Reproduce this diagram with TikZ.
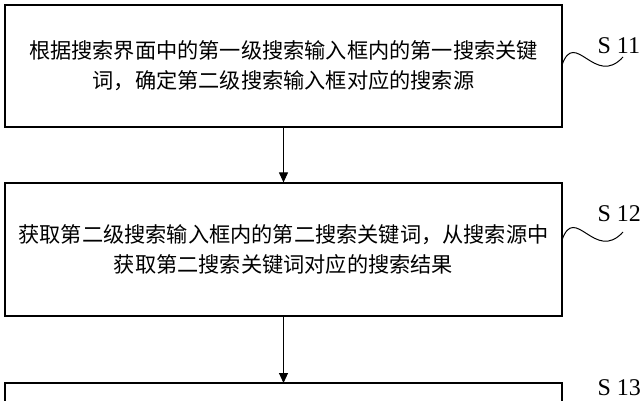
\documentclass[tikz,border=0pt]{standalone}
\usepackage{fontspec}
\setmainfont{Liberation Serif}
\newfontfamily\cjk{Noto Sans CJK SC}
\usetikzlibrary{arrows.meta}
\usetikzlibrary{positioning}
\begin{document}
\begin{tikzpicture}[x=1pt,y=-1pt,
    stepbox/.style={draw,line width=1.2pt,inner sep=0pt},
    steptext/.style={align=center,font=\cjk\fontsize{21.2}{30}\selectfont},
    steplabel/.style={font=\fontsize{24}{26}\selectfont,anchor=west},
    flow/.style={-{Triangle[length=10pt,width=9pt]},line width=1pt}]
    \useasboundingbox (0,0) rectangle (644,400);

    % boxes
    \node[stepbox,minimum width=557,minimum height=122] (b1) at (283.5,66) {};
    \node[stepbox,minimum width=557,minimum height=133] (b2) at (283.5,249.5) {};
    \draw[line width=1.2pt] (5,440) |- (562,383) -- (562,440);
    \coordinate (b3) at (283.5,383);

    % texts
    \node[steptext] at (b1) {根据搜索界面中的第一级搜索输入框内的第一搜索关键\\词，确定第二级搜索输入框对应的搜索源};
    \node[steptext] at (b2) {获取第二级搜索输入框内的第二搜索关键词，从搜索源中\\获取第二搜索关键词对应的搜索结果};

    % arrows
    \draw[flow] (b1.south) -- (b2.north);
    \draw[flow] (b2.south) -- (b3);

    % step labels
    \node[steplabel] (s1) at (594,46) {S 11};
    \node[steplabel] (s2) at (594,214) {S 12};
    \node[steplabel] (s3) at (594,388) {S 13};
    \draw[line width=1pt] (562,65) .. controls (575,28) and (595,88) .. (623,57);
    \draw[line width=1pt] (562,240) .. controls (575,203) and (595,263) .. (623,232);
\end{tikzpicture}
\end{document}
